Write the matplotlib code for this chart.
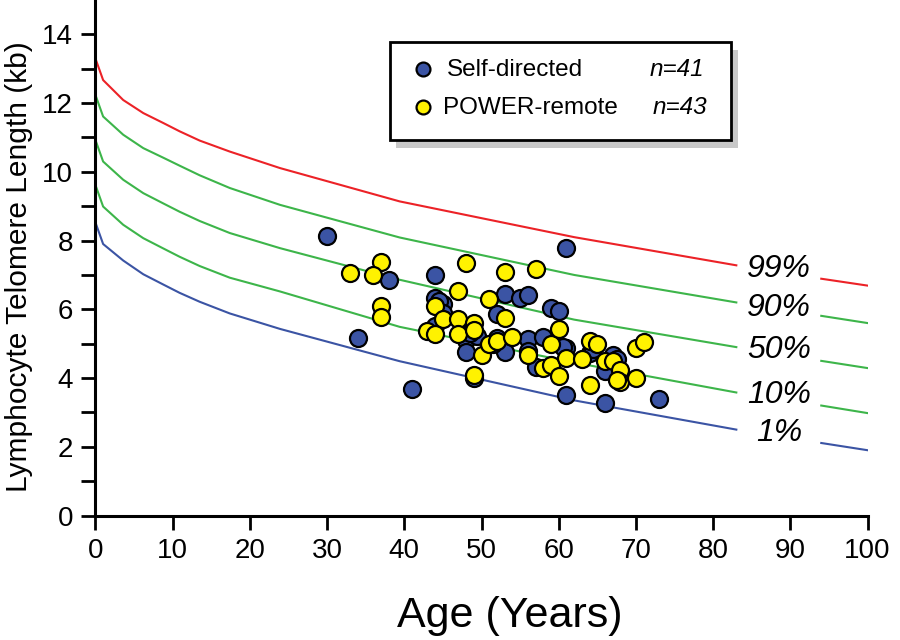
import matplotlib
matplotlib.use("Agg")
import matplotlib.pyplot as plt
from matplotlib.patches import Rectangle

plt.rcParams['font.family'] = ['Liberation Sans', 'DejaVu Sans']

# Percentile reference curves (age in years, telomere length in kb)
curve_ages = [0, 1, 3.6, 6.2, 8.8, 10.9, 13.5, 17.4, 23.9, 39.4, 62, 83, 94, 100]
p99 = [13.30, 12.67, 12.09, 11.71, 11.42, 11.18, 10.91, 10.59, 10.11, 9.14, 8.10, 7.28, 6.89, 6.69]
p90 = [12.24, 11.61, 11.08, 10.69, 10.41, 10.18, 9.90, 9.53, 9.04, 8.09, 7.00, 6.20, 5.81, 5.60]
p50 = [10.93, 10.30, 9.77, 9.38, 9.08, 8.84, 8.57, 8.22, 7.78, 6.86, 5.70, 4.90, 4.50, 4.29]
p10 = [9.62, 8.99, 8.46, 8.07, 7.77, 7.53, 7.26, 6.92, 6.52, 5.49, 4.45, 3.58, 3.20, 2.98]
p01 = [8.53, 7.90, 7.42, 7.02, 6.72, 6.48, 6.22, 5.88, 5.43, 4.49, 3.35, 2.50, 2.11, 1.90]
curve_labels = ['99%', '90%', '50%', '10%', '1%']
label_y = [7.18, 6.05, 4.83, 3.52, 2.41]

# Self-directed group
self_age = [30.0, 38.0, 34.0, 41.0, 44.0, 44.0, 45.0, 44.0, 48.0, 48.0,
            49.4, 49.0, 52.0, 52.0, 53.0, 53.0, 55.0, 56.0, 56.0, 56.0,
            57.0, 58.0, 59.0, 60.0, 61.0, 61.0, 61.0, 64.0, 67.0, 66.0,
            66.0, 73.0, 44.5, 45.0, 48.5, 51.5, 60.5, 64.5, 67.5]
self_tl = [8.12, 6.84, 5.17, 3.68, 6.99, 6.33, 6.15, 5.50, 5.12, 4.75,
           5.21, 4.00, 5.17, 5.86, 6.44, 4.75, 6.33, 6.42, 5.14, 4.78,
           4.32, 5.19, 6.04, 5.94, 7.78, 4.88, 3.52, 4.73, 4.68, 4.20,
           3.27, 3.40, 6.25, 5.90, 5.30, 5.00, 4.90, 4.85, 4.55]

# POWER-remote group
power_age = [33.0, 37.0, 36.0, 37.0, 37.0, 44.0, 45.0, 43.0, 44.0, 47.0,
             48.0, 47.0, 47.0, 49.0, 49.0, 49.0, 50.0, 51.0, 51.0, 52.0,
             53.0, 53.0, 54.0, 57.0, 56.0, 58.0, 59.0, 60.0, 59.0, 60.0,
             61.0, 63.0, 64.0, 65.0, 66.0, 67.0, 68.0, 68.0, 70.0, 64.0,
             70.0, 71.0, 67.5]
power_tl = [7.05, 7.39, 6.99, 6.11, 5.79, 6.09, 5.72, 5.36, 5.29, 6.54,
            7.35, 5.72, 5.29, 5.60, 5.41, 4.10, 4.68, 6.30, 5.00, 5.07,
            5.75, 7.08, 5.19, 7.18, 4.66, 4.29, 4.99, 5.43, 4.39, 4.05,
            4.58, 4.55, 5.07, 5.00, 4.49, 4.51, 4.22, 3.88, 4.00, 3.80,
            4.87, 5.04, 3.95]

legend_names = ['Self-directed', 'POWER-remote']
legend_n = ['n=41', 'n=43']

blue = '#3B54A4'
yellow = '#FFF200'
red = '#EC2227'
green = '#3DB54A'

fig = plt.figure(figsize=(9, 6.4), dpi=100)
ax = fig.add_axes([0.106, 0.1945, 0.858, 0.8055])

curves = [p99, p90, p50, p10, p01]
colors = [red, green, green, green, blue]
split = curve_ages.index(83) + 1
for vals, c in zip(curves, colors):
    ax.plot(curve_ages[:split], vals[:split], color=c, lw=1.5, zorder=2)
    ax.plot(curve_ages[split:], vals[split:], color=c, lw=1.5, zorder=2)
for lab, yv in zip(curve_labels, label_y):
    ax.text(88.5, yv, lab, fontsize=23, style='italic', ha='center', va='center')

ax.scatter(self_age, self_tl, s=150, c=blue, edgecolors='black', linewidths=1.6, zorder=3)
ax.scatter(power_age, power_tl, s=150, c=yellow, edgecolors='black', linewidths=1.6, zorder=4)

ax.set_xlim(0, 100)
ax.set_ylim(0, 15)
ax.set_xticks(range(0, 101, 10))
ax.set_yticks(range(0, 15, 1))
ax.set_yticklabels([str(v) if v % 2 == 0 else '' for v in range(0, 15)])
ax.tick_params(direction='out', length=10, width=2, labelsize=20, pad=6)
for s in ['top', 'right']:
    ax.spines[s].set_visible(False)
for s in ['left', 'bottom']:
    ax.spines[s].set_linewidth(2.2)
ax.set_ylabel('Lymphocyte Telomere Length (kb)', fontsize=21.5)
ax.yaxis.set_label_coords(-0.081, 0.483)

W, H = 900.0, 640.0
def fx(px):
    return px / W
def fy(py):
    return 1 - py / H

fig.text(fx(510), fy(627), 'Age (Years)', fontsize=31, ha='center', va='baseline')

# Legend box with drop shadow (figure pixel coordinates)
fig.patches.append(Rectangle((fx(396), fy(148)), fx(738) - fx(396), fy(50) - fy(148),
                             transform=fig.transFigure, facecolor='#c8c8c8',
                             edgecolor='none', zorder=5))
fig.patches.append(Rectangle((fx(389.5), fy(140)), fx(731) - fx(389.5), fy(42) - fy(140),
                             transform=fig.transFigure, facecolor='white',
                             edgecolor='black', lw=2, zorder=6))
for i, (name, n, c) in enumerate(zip(legend_names, legend_n, [blue, yellow])):
    yy = [69, 107][i]
    fig.add_artist(plt.Line2D([fx(423)], [fy(yy)], marker='o', markersize=10,
                              markerfacecolor=c, markeredgecolor='black',
                              markeredgewidth=1.6, transform=fig.transFigure, zorder=7))
    fig.text(fx([447, 443][i]), fy(yy + 1), name, fontsize=17.5, va='center', ha='left', zorder=7)
    fig.text(fx([650, 653][i]), fy(yy + 1), n, fontsize=17.5, style='italic',
             va='center', ha='left', zorder=7)

fig.savefig('out.png', dpi=100)
